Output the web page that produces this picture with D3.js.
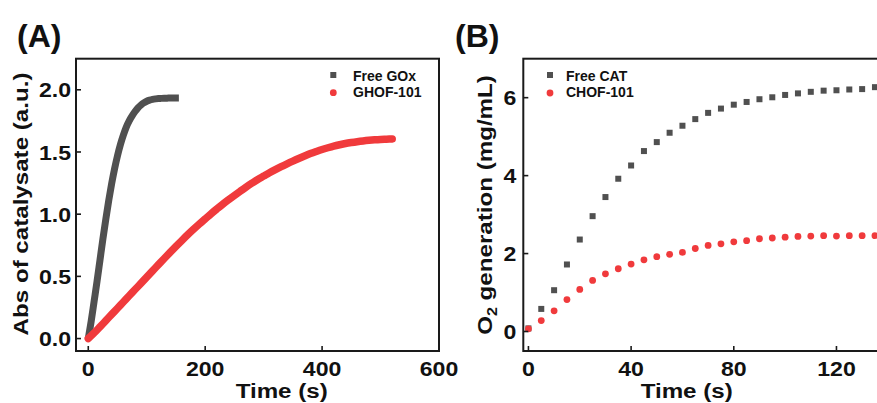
<!DOCTYPE html>
<html>
<head>
<meta charset="utf-8">
<script src="https://cdn.jsdelivr.net/npm/d3@7"></script>
<style>
  html, body { margin: 0; padding: 0; background: #fff; }
  svg { display: block; }
  text { font-family: "Liberation Sans", Arial, Helvetica, sans-serif; font-weight: bold; fill: #111; }
</style>
</head>
<body>
<svg id="chart" width="877" height="403"></svg>
<script>
// ---------------- DATA ----------------
// Panel A: Free GOx (time s, absorbance)
const gox_t = [0,5,10,15,20,25,30,35,40,45,50,55,60,65,70,75,80,85,90,95,100,105,110,115,120,125,130,135,140,145,150,155];
const gox_v = [0.00,0.14,0.30,0.46,0.63,0.80,0.96,1.11,1.245,1.365,1.47,1.56,1.635,1.70,1.75,1.79,1.825,1.855,1.877,1.895,1.908,1.917,1.923,1.927,1.930,1.931,1.932,1.933,1.934,1.934,1.935,1.935];
// Panel A: GHOF-101
const ghof_t = [0,10,20,30,40,50,60,70,80,90,100,110,120,130,140,150,160,170,180,190,200,210,220,230,240,250,260,270,280,290,300,310,320,330,340,350,360,370,380,390,400,410,420,430,440,450,460,470,480,490,500,510,520];
const ghof_v = [0.000,0.045,0.094,0.144,0.194,0.244,0.294,0.344,0.394,0.444,0.494,0.544,0.594,0.644,0.693,0.741,0.788,0.834,0.878,0.921,0.962,1.003,1.042,1.080,1.116,1.151,1.185,1.218,1.249,1.279,1.306,1.333,1.358,1.382,1.405,1.427,1.448,1.468,1.487,1.504,1.520,1.534,1.547,1.558,1.568,1.576,1.583,1.589,1.594,1.598,1.601,1.603,1.605];
// Panel B: time (s)
const b_t = [0,5,10,15,20,25,30,35,40,45,50,55,60,65,70,75,80,85,90,95,100,105,110,115,120,125,130,135];
const cat_v  = [0.08,0.58,1.06,1.72,2.36,2.96,3.45,3.92,4.26,4.63,4.86,5.10,5.28,5.45,5.61,5.72,5.82,5.89,5.96,6.01,6.07,6.11,6.15,6.18,6.19,6.21,6.22,6.27];
const chof_v = [0.07,0.28,0.53,0.82,1.08,1.31,1.48,1.61,1.73,1.84,1.92,1.98,2.03,2.13,2.21,2.25,2.30,2.33,2.38,2.40,2.42,2.44,2.45,2.46,2.45,2.46,2.46,2.46];
// Ticks
const a_xticks = [0,200,400,600];
const a_yticks = [0.0,0.5,1.0,1.5,2.0];
const b_xticks = [0,40,80,120];
const b_yticks = [0,2,4,6];

// ---------------- STYLE ----------------
const GRAY = "#505050", RED = "#f03a3c", AXIS = "#1a1a1a";
const svg = d3.select("#chart");

function txt(g, x, y, s, opts) {
  opts = opts || {};
  const t = g.append("text")
    .attr("transform", `translate(${x},${y}) rotate(${opts.rot||0}) scale(${opts.sx||1},1)`)
    .attr("text-anchor", opts.anchor || "start")
    .attr("font-size", opts.size || 14);
  if (opts.dy) t.attr("dy", opts.dy);
  t.text(s);
  return t;
}

function frame(x, y, fmtX, fmtY, xticks, yticks, ygap) {
  const [x0, x1] = x.range(), [y0, y1] = y.range();
  const g = svg.append("g");
  xticks.forEach(v => {
    g.append("line").attr("x1", x(v)).attr("x2", x(v)).attr("y1", y0).attr("y2", y0 - 5)
      .attr("stroke", AXIS).attr("stroke-width", 1.6);
    txt(g, x(v), 376, fmtX(v), {anchor: "middle", size: 21, sx: 1.1});
  });
  yticks.forEach(v => {
    g.append("line").attr("x1", x0).attr("x2", x0 + 5).attr("y1", y(v)).attr("y2", y(v))
      .attr("stroke", AXIS).attr("stroke-width", 1.6);
    txt(g, x0 - ygap, y(v), fmtY(v), {anchor: "end", size: 21, sx: 1.1, dy: "0.36em"});
  });
  g.append("rect").attr("x", x0).attr("y", y1).attr("width", x1 - x0).attr("height", y0 - y1)
    .attr("fill", "none").attr("stroke", AXIS).attr("stroke-width", 2);
  return g;
}

// ---------------- PANEL A ----------------
const xA = d3.scaleLinear().domain([-21, 600]).range([76, 439]);
const yA = d3.scaleLinear().domain([-0.1, 2.25]).range([351, 58.7]);

const lineA = d3.line().x(d => xA(d[0])).y(d => yA(d[1])).curve(d3.curveMonotoneX);
const goxData = gox_t.map((t, i) => [t, gox_v[i]]);
const ghofData = ghof_t.map((t, i) => [t, ghof_v[i]]);

svg.append("path").attr("d", lineA(goxData)).attr("fill", "none")
  .attr("stroke", GRAY).attr("stroke-width", 7).attr("stroke-linecap", "butt").attr("stroke-linejoin", "round");
svg.append("path").attr("d", lineA(ghofData)).attr("fill", "none")
  .attr("stroke", RED).attr("stroke-width", 7.5).attr("stroke-linecap", "round").attr("stroke-linejoin", "round");

frame(xA, yA, d3.format("d"), d3.format(".1f"), a_xticks, a_yticks, 5);

// Legend A
svg.append("rect").attr("x", 333.3 - 3).attr("y", 75 - 3).attr("width", 6).attr("height", 6).attr("fill", GRAY);
svg.append("circle").attr("cx", 333.3).attr("cy", 92.7).attr("r", 3.4).attr("fill", RED);
txt(svg, 353, 81, "Free GOx", {size: 14});
txt(svg, 353, 97, "GHOF-101", {size: 14});

// Titles A
txt(svg, 281.7, 398, "Time (s)", {anchor: "middle", size: 21, sx: 1.15});
txt(svg, 27.5, 204, "Abs of catalysate (a.u.)", {anchor: "middle", size: 21, sx: 1.15, rot: -90});
txt(svg, 17, 46.5, "(A)", {size: 32});

// ---------------- PANEL B ----------------
const xB = d3.scaleLinear().domain([-2, 140]).range([523.3, 887.8]);
const yB = d3.scaleLinear().domain([-0.5, 7]).range([351, 58.7]);

svg.append("g").selectAll("rect").data(b_t.map((t, i) => [t, cat_v[i]])).join("rect")
  .attr("x", d => xB(d[0]) - 3).attr("y", d => yB(d[1]) - 3)
  .attr("width", 6).attr("height", 6).attr("fill", GRAY);
svg.append("g").selectAll("circle").data(b_t.map((t, i) => [t, chof_v[i]])).join("circle")
  .attr("cx", d => xB(d[0])).attr("cy", d => yB(d[1])).attr("r", 3.4).attr("fill", RED);

frame(xB, yB, d3.format("d"), d3.format("d"), b_xticks, b_yticks, 7);

// Legend B
svg.append("rect").attr("x", 550 - 3).attr("y", 75 - 3).attr("width", 6).attr("height", 6).attr("fill", GRAY);
svg.append("circle").attr("cx", 550).attr("cy", 93).attr("r", 3.4).attr("fill", RED);
txt(svg, 566, 81, "Free CAT", {size: 14});
txt(svg, 566, 97, "CHOF-101", {size: 14});

// Titles B
txt(svg, 686.7, 398, "Time (s)", {anchor: "middle", size: 21, sx: 1.15});
const yt = txt(svg, 492, 205, "", {anchor: "middle", size: 21, sx: 1.15, rot: -90});
yt.append("tspan").text("O");
yt.append("tspan").attr("font-size", 14).attr("dy", 5).text("2");
yt.append("tspan").attr("dy", -5).text(" generation (mg/mL)");
txt(svg, 455, 46.5, "(B)", {size: 32});
</script>
</body>
</html>
